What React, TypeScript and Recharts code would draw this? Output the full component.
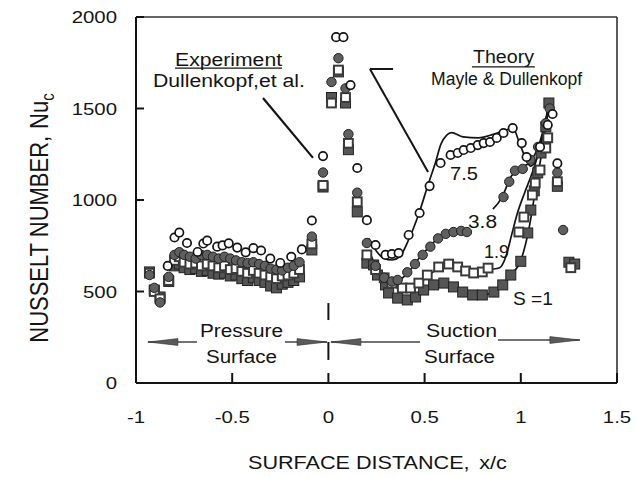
import React from 'react';
import { ComposedChart, XAxis, YAxis, Scatter, Line, ReferenceLine, ReferenceDot } from 'recharts';

const FONT = "'Liberation Sans', Arial, Helvetica, sans-serif";
const INK = '#141414';

const X_TICKS = [-1, -0.5, 0, 0.5, 1, 1.5];
const Y_TICKS = [0, 500, 1000, 1500, 2000];
const X_TICK_LABELS = ['-1', '-0.5', '0', '0.5', '1', '1.5'];
const Y_TICK_LABELS = ['0', '500', '1000', '1500', '2000'];

// Experiment, S = 7.5 (open circles)
const EXP_S75: [number, number][] = [
  [-0.835, 640], [-0.8, 795], [-0.775, 822], [-0.735, 765], [-0.68, 716], [-0.65, 762], [-0.63, 778],
  [-0.578, 745], [-0.55, 752], [-0.518, 763], [-0.474, 740], [-0.43, 714], [-0.39, 737], [-0.35, 724],
  [-0.302, 680], [-0.25, 656], [-0.193, 690], [-0.138, 730], [-0.086, 888], [-0.028, 1240],
  [0.04, 1890], [0.078, 1890], [0.115, 1628], [0.15, 1175], [0.2, 890],
  [0.245, 754], [0.297, 700], [0.33, 705], [0.365, 710], [0.417, 809], [0.474, 929], [0.526, 1076],
  [0.583, 1202], [0.635, 1246], [0.672, 1257], [0.703, 1273], [0.74, 1284], [0.776, 1300], [0.807, 1311],
  [0.84, 1317], [0.875, 1339], [0.91, 1366], [0.958, 1393], [1.005, 1311], [1.03, 1235],
  [1.1, 1290], [1.14, 1410], [1.165, 1470], [1.19, 1200],
];

// Experiment, S = 3.8 (filled circles)
const EXP_S38: [number, number][] = [
  [-0.93, 590], [-0.905, 520], [-0.875, 440], [-0.83, 580], [-0.8, 700], [-0.775, 715], [-0.75, 700],
  [-0.72, 690], [-0.69, 680], [-0.66, 700], [-0.63, 700], [-0.6, 690], [-0.57, 680], [-0.54, 690],
  [-0.51, 680], [-0.48, 670], [-0.45, 660], [-0.42, 655], [-0.39, 660], [-0.36, 650], [-0.33, 640],
  [-0.3, 625], [-0.27, 620], [-0.24, 615], [-0.21, 630], [-0.18, 640], [-0.15, 660], [-0.086, 800],
  [-0.028, 1150], [0.016, 1645], [0.052, 1775], [0.089, 1610], [0.104, 1360], [0.15, 1040], [0.2, 765],
  [0.245, 640], [0.29, 575], [0.33, 555], [0.36, 563], [0.41, 605], [0.45, 650], [0.49, 700],
  [0.53, 745], [0.57, 790], [0.61, 815], [0.65, 825], [0.69, 831], [0.72, 825],
  [0.91, 1016], [0.94, 1100], [0.97, 1160], [1.01, 1170], [1.05, 1220], [1.09, 1290], [1.13, 1420],
  [1.15, 1500], [1.19, 1150], [1.22, 836],
];

// Experiment, S = 1.9 (open squares)
const EXP_S19: [number, number][] = [
  [-0.93, 600], [-0.905, 500], [-0.875, 460], [-0.83, 560], [-0.8, 670], [-0.775, 690], [-0.75, 660],
  [-0.72, 650], [-0.69, 655], [-0.66, 640], [-0.63, 650], [-0.6, 640], [-0.57, 630], [-0.54, 640],
  [-0.51, 620], [-0.48, 625], [-0.45, 610], [-0.42, 600], [-0.39, 615], [-0.36, 600], [-0.33, 590],
  [-0.3, 580], [-0.27, 570], [-0.24, 585], [-0.21, 590], [-0.18, 600], [-0.15, 620], [-0.086, 760],
  [-0.028, 1080], [0.016, 1530], [0.052, 1710], [0.089, 1560], [0.104, 1310], [0.15, 990], [0.2, 700],
  [0.245, 620], [0.29, 575], [0.33, 546], [0.384, 519], [0.427, 519], [0.47, 546], [0.514, 590],
  [0.573, 634], [0.625, 650], [0.672, 634], [0.713, 612], [0.755, 601], [0.8, 607], [0.83, 628],
  [0.99, 825], [1.016, 907], [1.06, 1027], [1.075, 1093], [1.1, 1164], [1.13, 1284], [1.14, 1340],
  [1.19, 1100], [1.26, 630],
];

// Experiment, S = 1 (filled squares)
const EXP_S1: [number, number][] = [
  [-0.93, 607], [-0.905, 508], [-0.875, 470], [-0.83, 555], [-0.8, 640], [-0.775, 650], [-0.75, 630],
  [-0.72, 620], [-0.69, 625], [-0.66, 610], [-0.63, 615], [-0.6, 600], [-0.57, 595], [-0.54, 600],
  [-0.51, 585], [-0.48, 590], [-0.45, 570], [-0.42, 560], [-0.39, 575], [-0.36, 560], [-0.33, 550],
  [-0.3, 530], [-0.27, 520], [-0.24, 540], [-0.21, 550], [-0.18, 560], [-0.15, 580], [-0.086, 727],
  [-0.028, 1071], [0.016, 1560], [0.052, 1700], [0.089, 1530], [0.104, 1275], [0.15, 935], [0.2, 655],
  [0.235, 645], [0.255, 590], [0.297, 536], [0.313, 492], [0.36, 464], [0.41, 454], [0.453, 470],
  [0.495, 508], [0.547, 536], [0.6, 546], [0.65, 525], [0.698, 497], [0.75, 481], [0.8, 481],
  [0.86, 497], [0.906, 536], [0.948, 590], [1.0, 665], [1.036, 820], [1.052, 945], [1.07, 1050],
  [1.088, 1148], [1.105, 1257], [1.13, 1400], [1.146, 1530], [1.19, 1075], [1.25, 660], [1.28, 650],
];

// Theory (Mayle & Dullenkopf)
const TH_S75: [number, number | null][] = [
  [0.21, 790], [0.25, 720], [0.29, 680], [0.33, 672], [0.37, 690], [0.42, 790], [0.47, 925], [0.52, 1090],
  [0.555, 1200], [0.585, 1305], [0.615, 1355], [0.64, 1368], [0.7, 1345], [0.78, 1340], [0.86, 1360],
  [0.93, 1385], [0.96, 1392], [0.99, 1320], [1.02, 1240], [1.05, 1185], [1.08, 1220], [1.11, 1330], [1.15, 1540],
];
const TH_S38: [number, number | null][] = [
  [0.22, 700], [0.26, 610], [0.3, 565], [0.34, 550], [0.38, 570], [0.42, 610], [0.47, 680], [0.52, 740],
  [0.57, 790], [0.62, 818], [0.67, 830], [0.72, 822], [0.76, null], [0.855, 950], [0.9, 1010], [0.95, 1130],
  [1.0, 1175], [1.05, 1210], [1.1, 1320], [1.15, 1540],
];
const TH_S19: [number, number | null][] = [
  [0.24, 610], [0.28, 560], [0.33, 530], [0.38, 515], [0.43, 520], [0.48, 550], [0.53, 595], [0.58, 630],
  [0.63, 645], [0.68, 630], [0.73, 610], [0.78, 605], [0.84, 620], [0.89, 630], [0.925, 700], [0.95, 800],
  [0.98, 920], [1.02, 1040], [1.06, 1150], [1.1, 1290], [1.15, 1540],
];
const TH_S1: [number, number | null][] = [
  [0.22, 690], [0.26, 580], [0.3, 510], [0.35, 470], [0.4, 455], [0.45, 470], [0.5, 510], [0.55, 538],
  [0.6, 545], [0.65, 525], [0.7, 495], [0.75, 480], [0.8, 480], [0.85, 495], [0.9, 530], [0.95, 590],
  [1.0, 670], [1.04, 830], [1.08, 1080], [1.12, 1330], [1.15, 1540],
];

const pts = (a: [number, number | null][]) => a.map(([x, y]) => ({ x, y }));

const openCircle = (p: any) => <circle cx={p.cx} cy={p.cy} r={4.2} fill="#fff" stroke={INK} strokeWidth={1.7} />;
const filledCircle = (p: any) => <circle cx={p.cx} cy={p.cy} r={4.7} fill="#5f5f5f" stroke="#222" strokeWidth={1} />;
const openSquare = (p: any) => <rect x={p.cx - 4.4} y={p.cy - 4.4} width={8.8} height={8.8} fill="#fff" stroke="#3a3a3a" strokeWidth={2} />;
const filledSquare = (p: any) => <rect x={p.cx - 5} y={p.cy - 5} width={10} height={10} fill="#555" stroke="#222" strokeWidth={1} />;

const YTick = (p: any) => {
  const i = Y_TICKS.indexOf(p.payload.value);
  return (
    <g>
      <line x1={p.x} x2={p.x + 8} y1={p.y} y2={p.y} stroke={INK} strokeWidth={2} />
      <text transform={`translate(${p.x - 19},${p.y + 6}) scale(1.2,1)`} textAnchor="end" fontFamily={FONT} fontSize={17} fill={INK}>
        {Y_TICK_LABELS[i]}
      </text>
    </g>
  );
};

const XTick = (p: any) => {
  const i = X_TICKS.indexOf(p.payload.value);
  return (
    <g>
      <line x1={p.x} x2={p.x} y1={p.y} y2={p.y - 10} stroke={INK} strokeWidth={2} />
      <text transform={`translate(${p.x},${p.y + 40}) scale(1.2,1)`} textAnchor="middle" fontFamily={FONT} fontSize={17} fill={INK}>
        {X_TICK_LABELS[i]}
      </text>
    </g>
  );
};

const XTitle = (p: any) => {
  const vb = p.viewBox;
  return (
    <text transform={`translate(${vb.x + 112},${vb.y + 86}) scale(1.2,1)`} textAnchor="start" fontFamily={FONT} fontSize={18} fill={INK}>
      SURFACE DISTANCE,<tspan dx={8}>x/c</tspan>
    </text>
  );
};

const YTitle = (p: any) => {
  const vb = p.viewBox;
  return (
    <text transform={`translate(${vb.x + 48},${vb.y + vb.height / 2 + 18}) scale(1.2,1) rotate(-90)`} textAnchor="middle" fontFamily={FONT} fontSize={22} fill={INK}>
      NUSSELT NUMBER,<tspan dx={7}>Nu</tspan><tspan dy={5} fontSize={15}>c</tspan>
    </text>
  );
};

const note = (label: string, len: number, size = 18) => (p: any) => (
  <text x={p.cx} y={p.cy} textAnchor="middle" fontFamily={FONT} fontSize={size} fill={INK} textLength={len} lengthAdjust="spacingAndGlyphs">
    {label}
  </text>
);

const arrowHead = (dir: number) => (p: any) => {
  const L = 30;
  const h = 3.4;
  return (
    <polygon
      points={`${p.cx},${p.cy} ${p.cx - dir * L},${p.cy - h} ${p.cx - dir * L},${p.cy + h}`}
      fill="#5a5a5a"
      stroke="#333"
      strokeWidth={0.6}
    />
  );
};

export default function App() {
  return (
    <div style={{ position: 'absolute', left: 0, top: 0, background: '#fff' }}>
      <ComposedChart width={636} height={477} margin={{ top: 17, right: 19, bottom: 0, left: 0 }}>
        <XAxis
          type="number"
          dataKey="x"
          domain={[-1, 1.5]}
          ticks={X_TICKS}
          interval={0}
          allowDataOverflow
          height={94}
          tickSize={0}
          tickMargin={0}
          tickLine={false}
          axisLine={{ stroke: INK, strokeWidth: 2 }}
          tick={(p: any) => <XTick {...p} />}
          label={(p: any) => <XTitle {...p} />}
        />
        <YAxis
          type="number"
          dataKey="y"
          domain={[0, 2000]}
          ticks={Y_TICKS}
          interval={0}
          allowDataOverflow
          width={136}
          tickSize={0}
          tickMargin={0}
          tickLine={false}
          axisLine={{ stroke: INK, strokeWidth: 2 }}
          tick={(p: any) => <YTick {...p} />}
          label={(p: any) => <YTitle {...p} />}
        />
        <ReferenceLine y={2000} stroke="#333" strokeWidth={1.6} />
        <ReferenceLine x={1.5} stroke="#333" strokeWidth={1.6} />

        <Line data={pts(TH_S75)} dataKey="y" type="monotone" stroke={INK} strokeWidth={1.7} dot={false} isAnimationActive={false} />
        <Line data={pts(TH_S38)} dataKey="y" type="monotone" stroke={INK} strokeWidth={1.7} dot={false} isAnimationActive={false} />
        <Line data={pts(TH_S19)} dataKey="y" type="monotone" stroke={INK} strokeWidth={1.7} dot={false} isAnimationActive={false} />
        <Line data={pts(TH_S1)} dataKey="y" type="monotone" stroke={INK} strokeWidth={1.7} dot={false} isAnimationActive={false} />

        <Scatter data={pts(EXP_S1)} shape={filledSquare} isAnimationActive={false} />
        <Scatter data={pts(EXP_S19)} shape={openSquare} isAnimationActive={false} />
        <Scatter data={pts(EXP_S38)} shape={filledCircle} isAnimationActive={false} />
        <Scatter data={pts(EXP_S75)} shape={openCircle} isAnimationActive={false} />

        {/* Experiment annotation */}
        <ReferenceDot x={-0.519} y={1732} shape={note('Experiment', 107)} />
        <ReferenceLine segment={[{ x: -0.797, y: 1721 }, { x: -0.241, y: 1721 }]} stroke={INK} strokeWidth={1.3} />
        <ReferenceDot x={-0.517} y={1617} shape={note('Dullenkopf,et al.', 152)} />
        <ReferenceLine segment={[{ x: -0.34, y: 1557 }, { x: -0.08, y: 1230 }]} stroke={INK} strokeWidth={2.2} />

        {/* Theory annotation */}
        <ReferenceDot x={0.91} y={1749} shape={note('Theory', 61)} />
        <ReferenceLine segment={[{ x: 0.746, y: 1727 }, { x: 1.073, y: 1727 }]} stroke={INK} strokeWidth={1.3} />
        <ReferenceDot x={0.926} y={1628} shape={note('Mayle & Dullenkopf', 151)} />
        <ReferenceLine segment={[{ x: 0.336, y: 1716 }, { x: 0.216, y: 1716 }]} stroke={INK} strokeWidth={2} />
        <ReferenceLine segment={[{ x: 0.216, y: 1716 }, { x: 0.518, y: 1153 }]} stroke={INK} strokeWidth={2} />

        {/* curve labels */}
        <ReferenceDot x={0.705} y={1109} shape={note('7.5', 28)} />
        <ReferenceDot x={0.801} y={847} shape={note('3.8', 29)} />
        <ReferenceDot x={0.874} y={683} shape={note('1.9', 25)} />
        <ReferenceDot x={1.063} y={426} shape={note('S =1', 40)} />

        {/* surface labels and arrows */}
        <ReferenceDot x={-0.452} y={251} shape={note('Pressure', 83)} />
        <ReferenceDot x={-0.452} y={109} shape={note('Surface', 71)} />
        <ReferenceDot x={0.692} y={251} shape={note('Suction', 71)} />
        <ReferenceDot x={0.681} y={109} shape={note('Surface', 71)} />

        <ReferenceLine segment={[{ x: -0.938, y: 224 }, { x: -0.683, y: 224 }]} stroke="#444" strokeWidth={1.4} />
        <ReferenceDot x={-0.938} y={224} shape={arrowHead(-1)} />
        <ReferenceLine segment={[{ x: -0.226, y: 224 }, { x: -0.007, y: 224 }]} stroke="#444" strokeWidth={1.4} />
        <ReferenceDot x={-0.007} y={224} shape={arrowHead(1)} />
        <ReferenceLine segment={[{ x: 0.013, y: 224 }, { x: 0.476, y: 224 }]} stroke="#444" strokeWidth={1.4} />
        <ReferenceDot x={0.013} y={224} shape={arrowHead(-1)} />
        <ReferenceLine segment={[{ x: 0.881, y: 235 }, { x: 1.307, y: 235 }]} stroke="#444" strokeWidth={1.4} />
        <ReferenceDot x={1.307} y={235} shape={arrowHead(1)} />

        <ReferenceLine segment={[{ x: 0, y: 437 }, { x: 0, y: 344 }]} stroke={INK} strokeWidth={2} />
        <ReferenceLine segment={[{ x: 0, y: 224 }, { x: 0, y: 126 }]} stroke={INK} strokeWidth={2} />
      </ComposedChart>
    </div>
  );
}
